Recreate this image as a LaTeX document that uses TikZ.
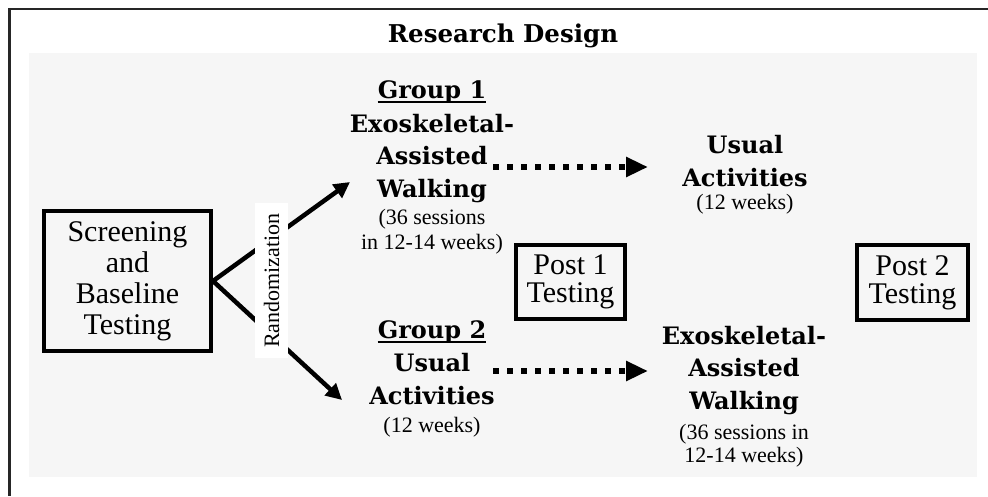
\documentclass[tikz,border=0pt]{standalone}
\usepackage{fontspec}
\setmainfont{Liberation Serif}
\newfontfamily\hdfont{DejaVu Serif}
\usetikzlibrary{arrows.meta}
\definecolor{panel}{HTML}{F6F6F6}
\begin{document}
\begin{tikzpicture}[x=1pt,y=-1pt,
  hd/.style={font=\fontsize{24}{28}\selectfont\hdfont\bfseries, inner sep=0pt, anchor=base},
  sm/.style={font=\fontsize{22}{26}\selectfont, inner sep=0pt, anchor=base},
  boxnode/.style={draw, line width=4pt, align=center, inner sep=0pt},
  arr/.style={line width=4.5pt, -{Triangle[length=16pt,width=16pt]}},
  dotarr/.style={line width=6pt, dash pattern=on 6pt off 8pt, -{Triangle[length=22pt,width=19pt]}}]
\useasboundingbox (0,0) rectangle (988,496);
% frame and panel
\draw[line width=2.5pt, color=black!85] (988,9) -- (9.5,9) -- (9.5,496);
\fill[panel] (29,53) rectangle (977,477);
% title
\node[font=\fontsize{24.5}{28}\selectfont\hdfont\bfseries, inner sep=0pt, anchor=base] (title) at (503,42) {Research Design};
% boxes
\node[boxnode, minimum width=167pt, minimum height=140pt, font=\fontsize{30}{31}\selectfont] (scr) at (127.5,281) {Screening\\and\\Baseline\\Testing};
\node[boxnode, minimum width=109pt, minimum height=74pt, font=\fontsize{30}{28}\selectfont] (p1) at (570.5,282) {Post 1\\Testing};
\node[boxnode, minimum width=111pt, minimum height=75pt, font=\fontsize{30}{28}\selectfont] (p2) at (912.5,282.5) {Post 2\\Testing};
% group 1
\node[hd] (g1t) at (432,98) {Group 1};
\draw[line width=1.8pt] ([yshift=-4pt]g1t.base west) -- ([yshift=-4pt]g1t.base east);
\node[hd] (g1a) at (432,132) {Exoskeletal-};
\node[hd] (g1b) at (432,164) {Assisted};
\node[hd] (g1c) at (432,197) {Walking};
\node[sm] (g1d) at (432,224) {(36 sessions};
\node[sm] (g1e) at (432,249) {in 12-14 weeks)};
% usual activities top
\node[hd] (u1a) at (745,153) {Usual};
\node[hd] (u1b) at (745,186) {Activities};
\node[sm] (u1c) at (745,209) {(12 weeks)};
% group 2
\node[hd] (g2t) at (432,338) {Group 2};
\draw[line width=1.8pt] ([yshift=-4pt]g2t.base west) -- ([yshift=-4pt]g2t.base east);
\node[hd] (g2a) at (432,371) {Usual};
\node[hd] (g2b) at (432,404) {Activities};
\node[sm] (g2c) at (432,432) {(12 weeks)};
% exo bottom right
\node[hd] (e2a) at (744,344) {Exoskeletal-};
\node[hd] (e2b) at (744,376) {Assisted};
\node[hd] (e2c) at (744,409) {Walking};
\node[sm] (e2d) at (744,439) {(36 sessions in};
\node[sm] (e2e) at (744,462) {12-14 weeks)};
% arrow ends
\coordinate (t1) at (350,182);
\coordinate (t2) at (342,400);
\coordinate (d1s) at (493,167);
\coordinate (d1e) at (648,167);
\coordinate (d2s) at (493,371);
\coordinate (d2e) at (648,371);
% connectors
\draw[arr] (scr.east) -- (t1);
\draw[arr] (scr.east) -- (t2);
\draw[dotarr] (d1s) -- (d1e);
\draw[dotarr] (d2s) -- (d2e);
% randomization label
\node[fill=white, rotate=90, minimum width=155pt, minimum height=33pt, inner sep=0pt, font=\fontsize{22}{26}\selectfont] (rand) at (271.5,280.5) {Randomization};
\end{tikzpicture}
\end{document}
